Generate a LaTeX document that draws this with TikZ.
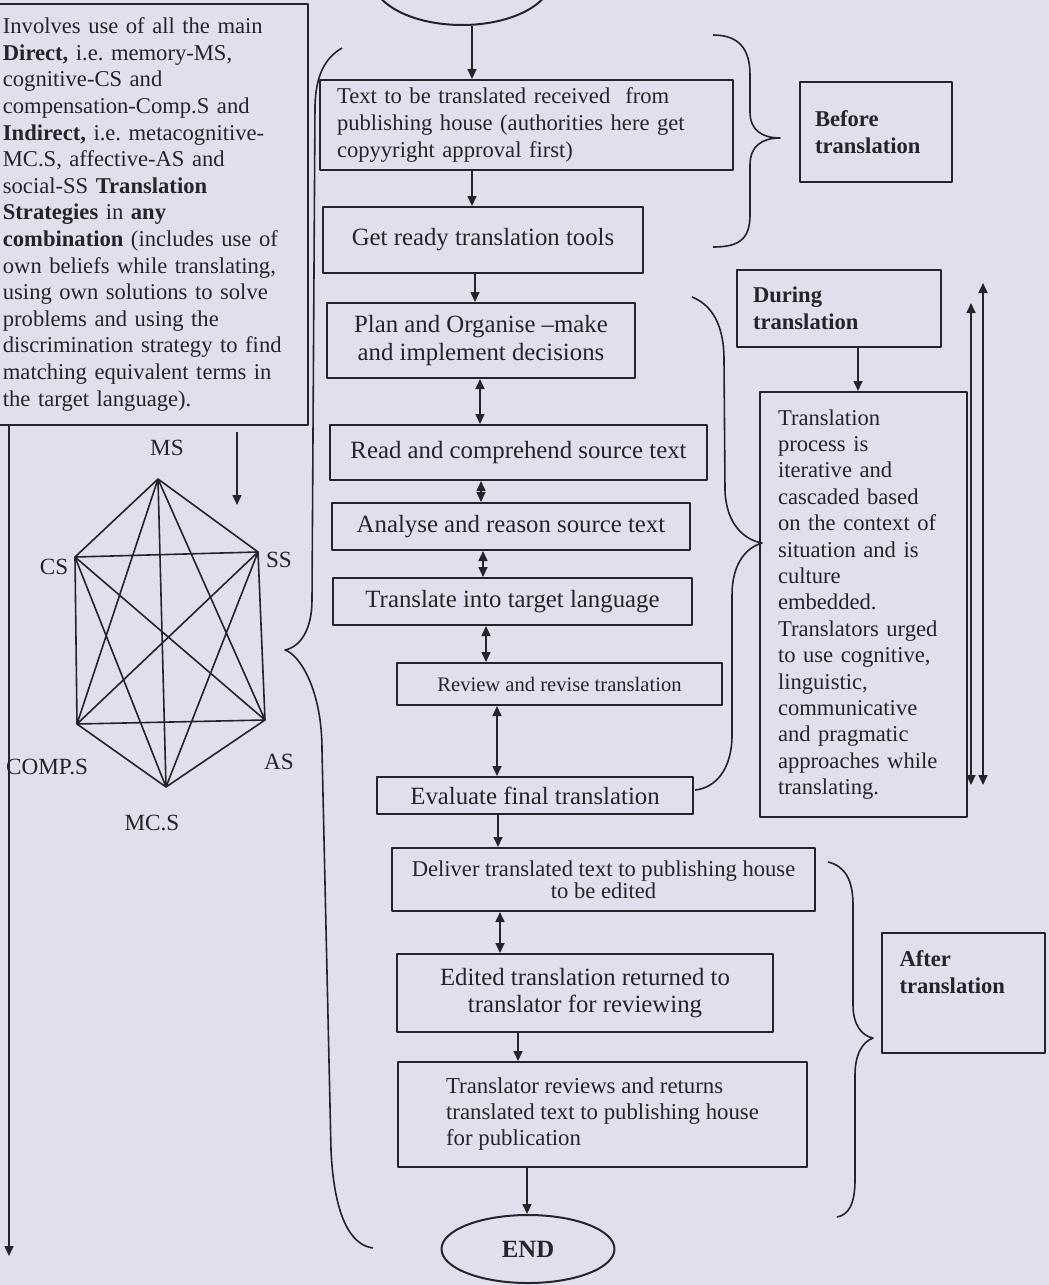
\documentclass[tikz,border=0pt]{standalone}
\usepackage{fontspec}
\setmainfont{Liberation Serif}
\usepackage{tikz}
\usetikzlibrary{shapes.geometric}
\usetikzlibrary{arrows.meta}
\frenchspacing
\definecolor{paper}{RGB}{224,223,235}
\definecolor{ink}{RGB}{36,36,42}
\newcommand{\flowfont}{\fontsize{11.3}{13.3}\selectfont}
\newcommand{\flowbigfont}{\fontsize{12.4}{14}\selectfont}
\tikzstyle{stage} = [rectangle, draw=ink, line width=1pt, text=ink, inner sep=0pt, align=center, font=\flowbigfont]
\tikzstyle{phase} = [rectangle, draw=ink, line width=0.9pt, text=ink, inner xsep=8pt, inner ysep=0pt, align=left, font=\flowfont\bfseries]
\tikzstyle{notebox} = [rectangle, draw=ink, line width=0.9pt, text=ink, inner xsep=4pt, inner ysep=0pt, align=left, font=\fontsize{11.3}{13.3}\selectfont]
\tikzstyle{term} = [ellipse, draw=ink, line width=1pt, text=ink, inner sep=0pt, font=\flowbigfont\bfseries]
\tikzstyle{vlabel} = [text=ink, inner sep=0pt, font=\fontsize{11.6}{13}\selectfont]
\tikzstyle{flow} = [line width=0.8pt, draw=ink]
\tikzstyle{curl} = [line width=0.8pt, draw=ink]

\begin{document}
\begin{tikzpicture}[x=0.5pt, y=-0.5pt, >={Triangle[length=5pt,width=4.5pt]}, line join=round]

\useasboundingbox (0,0) rectangle (1049,1285);
\fill[paper] (0,0) rectangle (1049,1285);
\clip (0,0) rectangle (1049,1285);

% strategies note and graph
\node (strats) [notebox, anchor=north west, text width=148.5pt, minimum height=210.5pt] at (-6,3) {Involves use of all the main\\
\textbf{Direct,} i.e. memory-MS,\\
cognitive-CS and\\
compensation-Comp.S and\\
\textbf{Indirect,} i.e. metacognitive-\\
MC.S, affective-AS and\\
social-SS \textbf{Translation}\\
\textbf{Strategies} in \textbf{any}\\
\textbf{combination} (includes use of\\
own beliefs while translating,\\
using own solutions to solve\\
problems and using the\\
discrimination strategy to find\\
matching equivalent terms in\\
the target language).};

\coordinate (ms) at (158,479);
\coordinate (cs) at (75,557);
\coordinate (ss) at (258,552);
\coordinate (cmp) at (77,724);
\coordinate (as) at (265,720);
\coordinate (mc) at (166,787);
\draw[flow] (ms)--(cs)--(ss)--(ms)--(cmp)--(as)--(ms)--(mc)--(cs)--(cmp)--(ss)--(as)--(cs) (cmp)--(mc)--(ss) (mc)--(as);

\node (mslab) [vlabel] at (167,448) {MS};
\node (cslab) [vlabel] at (54,567) {CS};
\node (sslab) [vlabel] at (279,560) {SS};
\node (cmplab) [vlabel] at (47,767) {COMP.S};
\node (aslab) [vlabel] at (279,762) {AS};
\node (mclab) [vlabel] at (152,823) {MC.S};

\coordinate (hintstart) at (237,432);
\coordinate (hintend) at (237,505);
\draw[flow,->] (hintstart) -- (hintend);

\coordinate (backend) at (9,1256);
\draw[flow,->] (strats.south -| backend) -- (backend);

% main flow
\node (start) [term, minimum width=90pt, minimum height=47pt] at (462,-22) {};
\node (b1) [stage, font=\flowfont, text width=189.5pt, inner xsep=8.5pt, align=left, minimum height=45pt] at (526.5,125) {Text to be translated received\ \ from\\publishing house (authorities here get\\copyyright approval first)};
\node (b2) [stage, minimum width=160pt, minimum height=33pt] at (483,240) {Get ready translation tools};
\node (b3) [stage, minimum width=154pt, minimum height=37.5pt] at (481,340.5) {Plan and Organise --make\\and implement decisions};
\node (b4) [stage, minimum width=188.5pt, minimum height=27.5pt] at (518.5,452.5) {Read and comprehend source text};
\node (b5) [stage, minimum width=179pt, minimum height=23.5pt] at (511,526.5) {Analyse and reason source text};
\node (b6) [stage, minimum width=179.5pt, minimum height=23.5pt] at (512.5,601.5) {Translate into target language};
\node (b7) [stage, font=\fontsize{10.3}{12}\selectfont, minimum width=162.5pt, minimum height=21pt] at (559.5,684) {Review and revise translation};
\node (b8) [stage, minimum width=158pt, minimum height=18.5pt] at (535,795.5) {Evaluate final translation};
\node (b9) [stage, font=\fontsize{11.3}{11}\selectfont, minimum width=211.5pt, minimum height=31.5pt] at (603.5,879.5) {Deliver translated text to publishing house\\to be edited};
\node (b10) [stage, font=\fontsize{12.4}{13.5}\selectfont, minimum width=188pt, minimum height=39pt] at (585,993) {Edited translation returned to\\translator for reviewing};
\node (b11) [stage, font=\fontsize{11.4}{13}\selectfont, align=left, minimum width=204.5pt, minimum height=52.5pt] at (602.5,1114.5) {Translator reviews and returns\\translated text to publishing house\\for publication};
\node (finish) [term, minimum width=86.5pt, minimum height=34pt] at (528,1249) {END};

\draw[flow,->] (start.south -| 472,0) -- (b1.north -| 472,0);
\draw[flow,->] (b1.south -| 472,0) -- (b2.north -| 472,0);
\draw[flow,->] (b2.south -| 475,0) -- (b3.north -| 475,0);
\draw[flow,<->] (b3.south -| 480,0) -- (b4.north -| 480,0);
\draw[flow,<->] (b4.south -| 481,0) -- (b5.north -| 481,0);
\draw[flow,<->] (b5.south -| 483,0) -- (b6.north -| 483,0);
\draw[flow,<->] (b6.south -| 486,0) -- (b7.north -| 486,0);
\draw[flow,<->] (b7.south -| 497,0) -- (b8.north -| 497,0);
\draw[flow,->] (b8.south -| 498,0) -- (b9.north -| 498,0);
\draw[flow,<->] (b9.south -| 500,0) -- (b10.north -| 500,0);
\draw[flow,->] (b10.south -| 518,0) -- (b11.north -| 518,0);
\draw[flow,->] (b11.south -| 527,0) -- (finish.north -| 527,0);

% stages on the right
\node (beforebox) [phase, text width=61pt, inner xsep=7.5pt, minimum height=50pt] at (876,132) {Before\\translation};
\node (duringbox) [phase, text width=86pt, minimum height=38.5pt] at (839,308.5) {During\\translation};
\node (iterbox) [stage, font=\fontsize{11.3}{13.2}\selectfont, align=left, text width=85.5pt, inner xsep=9pt, minimum height=212.5pt] at (863.5,604.5) {Translation\\process is\\iterative and\\cascaded based\\on the context of\\situation and is\\culture\\embedded.\\Translators urged\\to use cognitive,\\linguistic,\\communicative\\and pragmatic\\approaches while\\translating.};
\node (afterbox) [phase, minimum width=81.5pt, minimum height=60pt, label={[anchor=north west, align=left, text=ink, font=\flowfont\bfseries, inner sep=0pt, xshift=9pt, yshift=-9pt]north west:After\\translation}] at (963.5,993) {};

\draw[flow,->] (duringbox.south -| 858,0) -- (iterbox.north -| 858,0);

\coordinate (loopatop) at (971,303);
\coordinate (loopabot) at (971,785);
\coordinate (loopbtop) at (983,283);
\coordinate (loopbbot) at (983,785);
\draw[flow,<->] (loopatop) -- (loopabot);
\draw[flow,<->] (loopbtop) -- (loopbbot);

% braces
\draw[curl] (713,35) .. controls (738,35) and (750,48) .. (750,75) -- (750,112) .. controls (750,130) and (762,138) .. (780,138) .. controls (762,138) and (750,146) .. (750,165) -- (750,215) .. controls (750,240) and (738,247) .. (713,247);
\draw[curl] (692,297) .. controls (712,305) and (724,325) .. (724,360) -- (725,490) .. controls (726,525) and (745,540) .. (762,543) .. controls (745,548) and (732,565) .. (732,595) -- (732,735) .. controls (732,770) and (715,788) .. (695,790);
\draw[curl] (828,862) .. controls (845,866) and (853,880) .. (853,905) -- (853,1005) .. controls (853,1025) and (862,1036) .. (873,1038) .. controls (862,1042) and (855,1055) .. (855,1075) -- (855,1180) .. controls (855,1205) and (848,1215) .. (837,1217);
\draw[curl] (342,48) .. controls (325,58) and (316,75) .. (315,105) -- (312,600) .. controls (312,630) and (300,647) .. (285,650) .. controls (300,655) and (322,690) .. (322,750) -- (331,1150) .. controls (334,1215) and (350,1245) .. (373,1248);

\end{tikzpicture}
\end{document}
